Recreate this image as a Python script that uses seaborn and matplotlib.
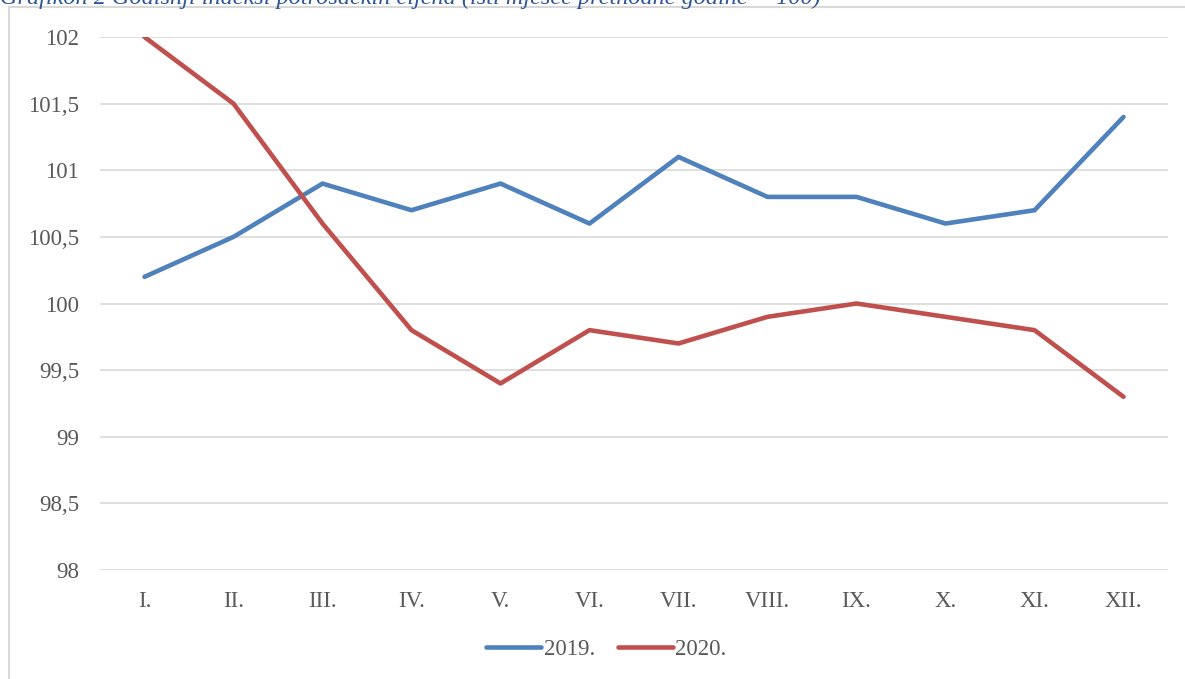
import matplotlib
matplotlib.use("Agg")
import matplotlib.pyplot as plt
import seaborn as sns
import pandas as pd
from matplotlib.patches import Rectangle

months = ["I.", "II.", "III.", "IV.", "V.", "VI.", "VII.", "VIII.", "IX.", "X.", "XI.", "XII."]
y2019 = [100.2, 100.5, 100.9, 100.7, 100.9, 100.6, 101.1, 100.8, 100.8, 100.6, 100.7, 101.4]
y2020 = [102.0, 101.5, 100.6, 99.8, 99.4, 99.8, 99.7, 99.9, 100.0, 99.9, 99.8, 99.3]
series_names = ["2019.", "2020."]
yticks = [98, 98.5, 99, 99.5, 100, 100.5, 101, 101.5, 102]
title = "Grafikon 2 Godišnji indeksi potrošačkih cijena (isti mjesec prethodne godine = 100)"

df = pd.DataFrame({
    "month": months * 2,
    "x": list(range(len(months))) * 2,
    "value": y2019 + y2020,
    "series": [series_names[0]] * len(months) + [series_names[1]] * len(months),
})

sns.set_theme(style="white")
plt.rcParams["font.family"] = ["Liberation Serif", "DejaVu Serif"]

W, H = 1185, 679
fig = plt.figure(figsize=(W / 100, H / 100), dpi=100)
ax = fig.add_axes([100 / W, 1 - 570 / H, (1168 - 100) / W, (570 - 37) / H])

palette = {"2019.": "#4F81BD", "2020.": "#C0504D"}
sns.lineplot(data=df, x="x", y="value", hue="series", palette=palette, ax=ax,
             linewidth=3.3, solid_capstyle="round", solid_joinstyle="round", legend=True)

ax.set_xlim(-0.5, len(months) - 0.5)
ax.set_ylim(98, 102)
ax.set_yticks(yticks)
ax.set_yticklabels([("%g" % v).replace(".", ",") for v in yticks])
ax.set_xticks(range(len(months)))
ax.set_xticklabels(months)
ax.set_xlabel("")
ax.set_ylabel("")
ax.grid(axis="y", color="#D9D9D9", linewidth=1.2)
ax.grid(axis="x", visible=False)
for s in ax.spines.values():
    s.set_visible(False)
ax.tick_params(axis="both", length=0, labelsize=16.5, colors="#595959")
ax.tick_params(axis="y", pad=15)
ax.tick_params(axis="x", pad=15)
ax.set_axisbelow(True)

leg = ax.legend(loc="center", bbox_to_anchor=(0.474, -0.15), ncol=2, frameon=False,
                fontsize=16.5, handlelength=2.4, handletextpad=0.1, columnspacing=1.0,
                labelcolor="#595959")
for line in leg.get_lines():
    line.set_linewidth(3.3)
    line.set_solid_capstyle("round")

# outer chart frame
fig.patches.append(Rectangle((9 / W, -0.05), 1.2, 1 - 7 / H + 0.05, transform=fig.transFigure,
                             fill=False, edgecolor="#D9D9D9", linewidth=1.5, figure=fig))

fig.text(0, 1 - 4 / H, title, fontsize=17.5, style="italic", color="#2E5597",
         ha="left", va="baseline")

fig.savefig("out.png", dpi=100)
